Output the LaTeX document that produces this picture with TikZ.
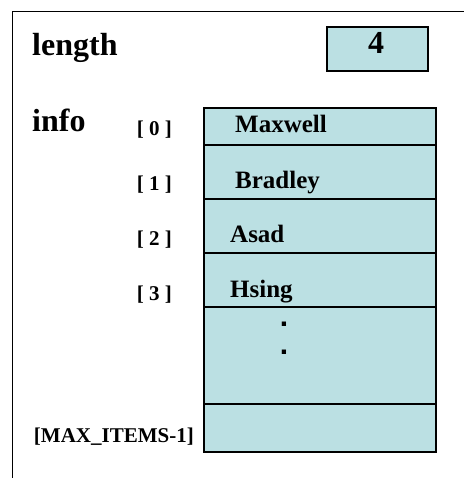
\documentclass[tikz,border=0pt]{standalone}
\usepackage{fontspec}
\setmainfont{Liberation Serif}
\newfontfamily\dotfont{Liberation Sans}
\definecolor{cellblue}{RGB}{187,224,227}
\begin{document}
\begin{tikzpicture}[x=1pt,y=-1pt,
  cell/.style={fill=cellblue,draw=black,line width=1.2pt},
  title/.style={font=\fontsize{32}{32}\selectfont\bfseries,anchor=base west,inner sep=0pt},
  entry/.style={font=\fontsize{25}{25}\selectfont\bfseries,anchor=base west,inner sep=0pt},
  index/.style={font=\fontsize{21}{21}\selectfont\bfseries,anchor=base east,inner sep=0pt},
  dotmark/.style={font=\dotfont\fontsize{30}{30}\selectfont\bfseries,anchor=base,inner sep=0pt}]
\useasboundingbox (0,0) rectangle (464,478);
\draw[line width=1pt] (12,478) -- (12,12) -- (464,12);
\draw[cell] (327,27) rectangle (428,71);
\foreach \top/\bot in {108/145,145/199,199/253,253/307,307/404,404/452}
  \draw[cell] (204,\top) rectangle (436,\bot);
\node[title] (length) at (32,56) {length};
\node[title] (info) at (32,132) {info};
\node[title,anchor=base] (count) at (376,54) {4};
\node[entry] (name0) at (235,133) {Maxwell};
\node[entry] (name1) at (235,188) {Bradley};
\node[entry] (name2) at (230,242) {Asad};
\node[entry] (name3) at (230,297) {Hsing};
\node[index] (index0) at (172,136) {[ 0 ]};
\node[index] (index1) at (172,190) {[ 1 ]};
\node[index] (index2) at (172,245) {[ 2 ]};
\node[index] (index3) at (172,300) {[ 3 ]};
\node[index] (indexmax) at (194,442) {[MAX\_ITEMS-1]};
\node[dotmark] (dot1) at (284,326) {.};
\node[dotmark] (dot2) at (284,354) {.};
\end{tikzpicture}
\end{document}
